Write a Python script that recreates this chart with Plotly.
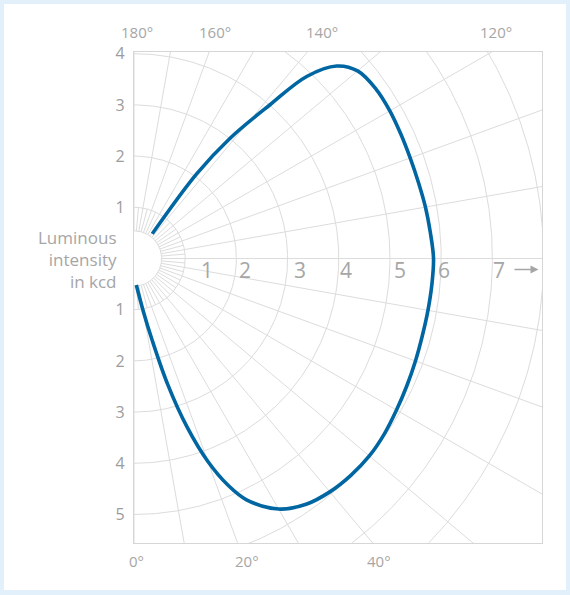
import numpy as np
import plotly.graph_objects as go

# ---- data: luminous intensity distribution (gamma angle 0 = straight down, 180 = straight up)
gamma_deg = [5, 10, 12.5, 15, 17.5, 20, 22.5, 25, 30, 35, 40, 45, 50, 55, 60, 65, 70, 75,
             80, 85, 90, 95, 100, 105, 110, 115, 120, 125, 130, 133.5, 136.5, 138.5,
             141.4, 143.5, 143.5]
intensity_kcd = [0.52, 1.05, 1.62, 2.55, 3.46, 4.22, 4.79, 5.20, 5.65, 5.86, 5.95, 5.99, 6.00,
                 5.97, 5.92, 5.88, 5.85, 5.83, 5.83, 5.84, 5.85, 5.81, 5.78, 5.75, 5.74,
                 5.75, 5.77, 5.77, 5.70, 5.46, 4.90, 4.01, 3.00, 2.05, 0.60]

ring_values = [1, 2, 3, 4, 5, 6, 7, 8]
ring_labels = ["1", "2", "3", "4", "5", "6", "7"]
vert_tick_vals = [4, 3, 2, 1, -1, -2, -3, -4, -5]
vert_tick_text = ["4", "3", "2", "1", "1", "2", "3", "4", "5"]
angle_top_labels = ["180°", "160°", "140°", "120°"]
angle_bottom_labels = ["0°", "20°", "40°"]

# ---- layout geometry
W, H = 570, 595
ML, MR, MT, MB = 134, 28, 52, 52
U = 51.2            # pixels per kcd
CY = 258.5          # pixel row of the centre
PW, PH = W - ML - MR, H - MT - MB
xr = [0, PW / U]
yr = [-(H - MB - CY) / U, (CY - MT) / U]

def X(px):
    return (px - ML) / U

def Y(py):
    return (CY - py) / U

def PX(px):
    return (px - ML) / PW

def PY(py):
    return (H - MB - py) / PH

def polar_xy(g, r):
    g = np.radians(np.asarray(g, dtype=float))
    r = np.asarray(r, dtype=float)
    return r * np.sin(g), -r * np.cos(g)

GRID = "#dcdcdc"
TXT = "#a6a6a6"
BLUE = "#0066a2"

fig = go.Figure()

# grid: circles (right half) and spokes
gx, gy = [], []
t = np.linspace(0, 180, 361)
r_inner = 0.54
for r in [r_inner] + ring_values:
    x, y = polar_xy(t, np.full_like(t, r))
    gx += list(x) + [None]
    gy += list(y) + [None]
for a in range(0, 181, 5):
    r_out = 12 if a % 10 == 0 else 1.0
    x, y = polar_xy([a, a], [r_inner, r_out])
    gx += list(x) + [None]
    gy += list(y) + [None]
fig.add_trace(go.Scatter(x=gx, y=gy, mode="lines", line=dict(color=GRID, width=1),
                         hoverinfo="skip", showlegend=False))

# curve
cx, cy = polar_xy(gamma_deg, intensity_kcd)
fig.add_trace(go.Scatter(x=cx, y=cy, mode="lines",
                         line=dict(color=BLUE, width=3.6, shape="spline", smoothing=1.0),
                         showlegend=False))

ann = []
# ring labels along horizontal axis
ring_label_px = [206.7, 244.5, 300, 346.3, 400, 443.7, 498.7]
for lab, px in zip(ring_labels, ring_label_px):
    ann.append(dict(x=PX(px), y=PY(269.5), xref="paper", yref="paper", text=lab,
                    showarrow=False, xanchor="center", yanchor="middle",
                    font=dict(size=21, color=TXT)))
# arrow after 7
ann.append(dict(x=X(538.5), y=Y(269.5), ax=X(513), ay=Y(269.5), axref="x", ayref="y",
                text="", showarrow=True, arrowhead=2, arrowsize=1, arrowwidth=1.6,
                arrowcolor=TXT))
# angle labels
for lab, px in zip(angle_top_labels, [136.7, 214.7, 322, 496]):
    ann.append(dict(x=PX(px), y=PY(32), xref="paper", yref="paper", text=lab,
                    showarrow=False, xanchor="center", yanchor="middle",
                    font=dict(size=15, color=TXT)))
for lab, px in zip(angle_bottom_labels, [136, 246.7, 378.8]):
    ann.append(dict(x=PX(px), y=PY(561), xref="paper", yref="paper", text=lab,
                    showarrow=False, xanchor="center", yanchor="middle",
                    font=dict(size=15, color=TXT)))
# axis title
ann.append(dict(x=PX(119), y=PY(259), xref="paper", yref="paper",
                text="Luminous<br>intensity<br>in kcd", showarrow=False,
                xanchor="right", yanchor="middle", align="right",
                font=dict(size=17, color=TXT)))

fig.update_layout(
    width=W, height=H,
    margin=dict(l=ML, r=MR, t=MT, b=MB, pad=0),
    paper_bgcolor="#e1f0fa",
    plot_bgcolor="white",
    font=dict(family="Open Sans", color=TXT),
    showlegend=False,
    annotations=ann,
    shapes=[dict(type="rect", xref="paper", yref="paper", layer="below",
                 x0=PX(4), x1=PX(566), y0=PY(590), y1=PY(4),
                 fillcolor="white", line=dict(width=0))],
    xaxis=dict(range=xr, showgrid=False, zeroline=False, showticklabels=False, ticks="",
               showline=True, linecolor="#d6d6d6", linewidth=1.2, mirror=True, fixedrange=True),
    yaxis=dict(range=yr, showgrid=False, zeroline=False, tickmode="array",
               tickvals=vert_tick_vals, ticktext=vert_tick_text, ticks="",
               tickfont=dict(size=16, color="#9c9c9c"), ticklabelstandoff=5,
               showline=True, linecolor="#d6d6d6", linewidth=1.2, mirror=True, fixedrange=True),
)

fig.write_html("out.html", config={"displayModeBar": False},
               post_script="document.body.style.margin='0px';")
